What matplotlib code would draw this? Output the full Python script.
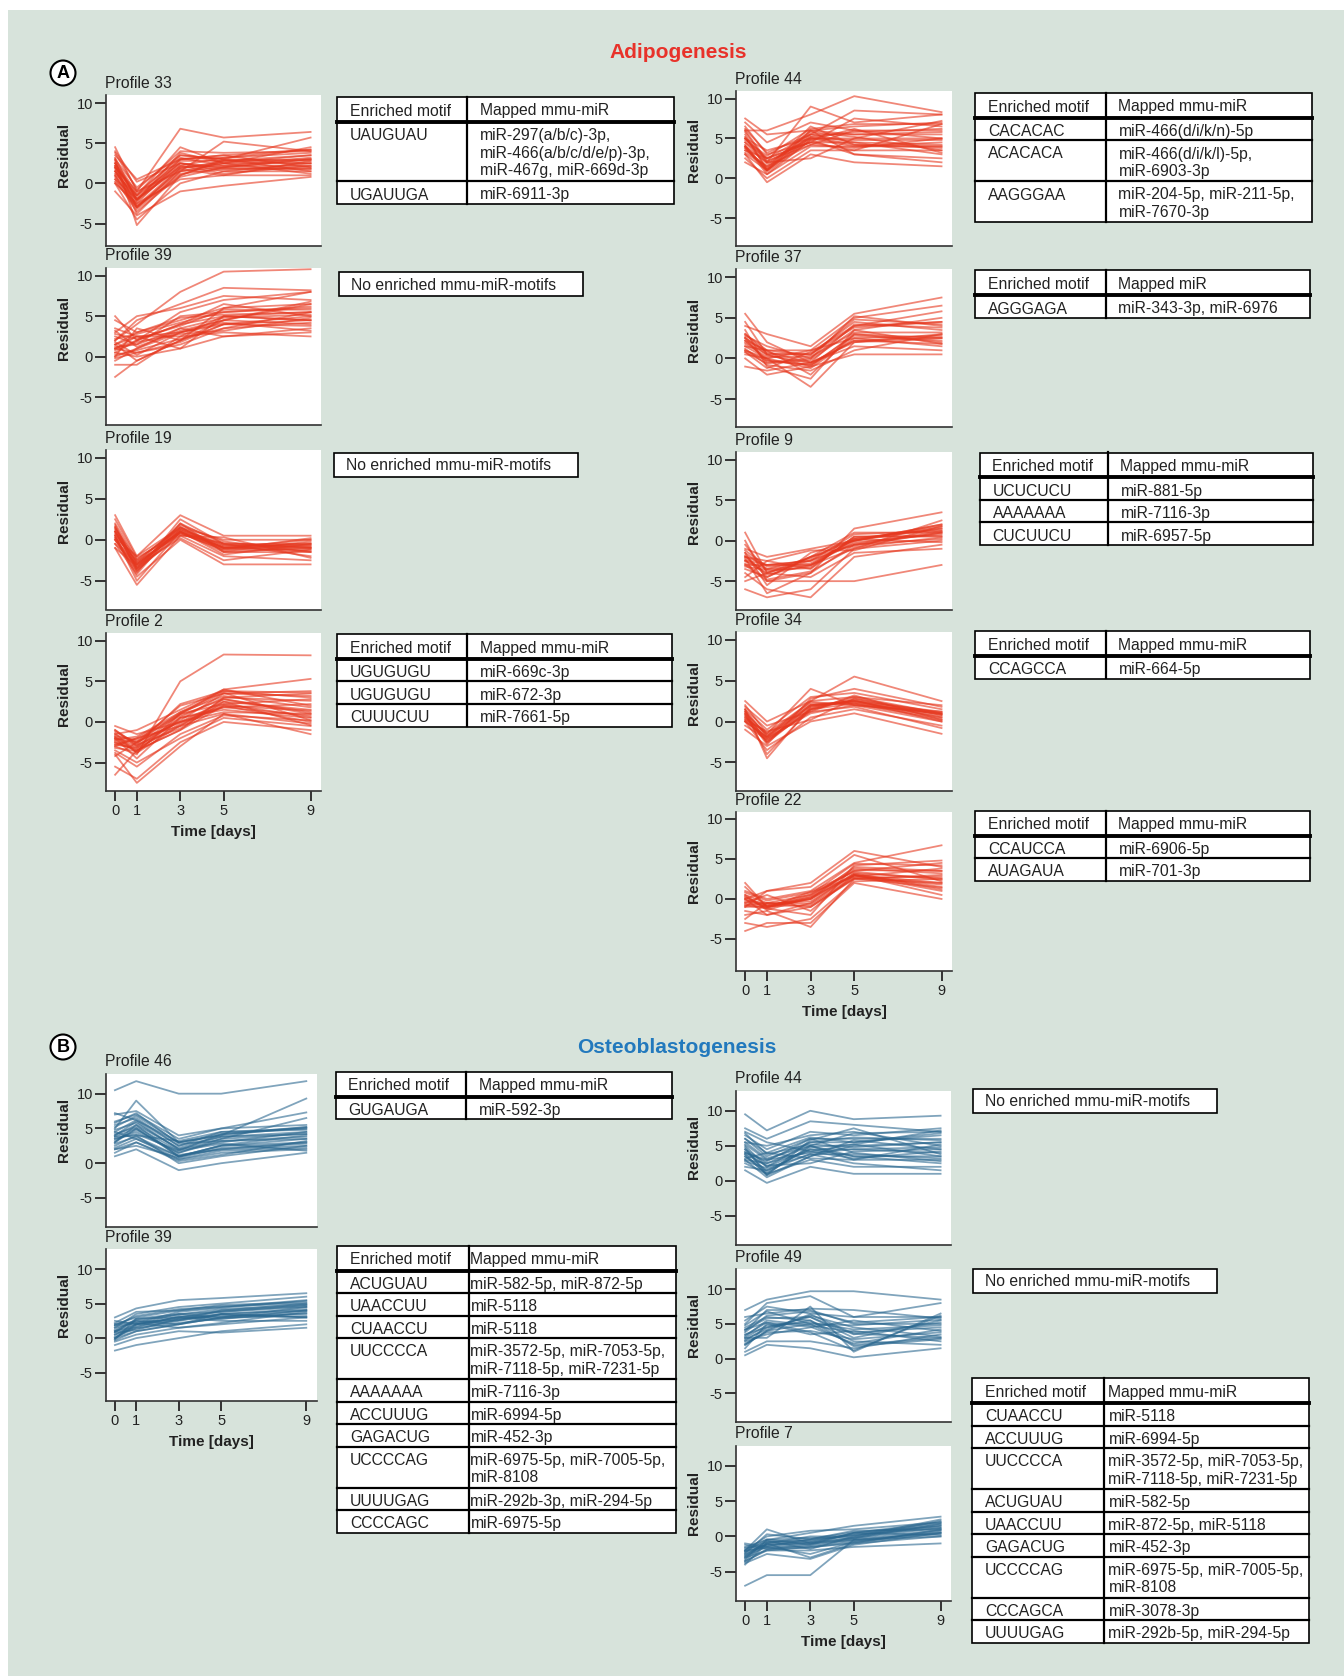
import matplotlib.pyplot as plt
from matplotlib.patches import Rectangle, Circle

plt.rcParams['font.family'] = ['Liberation Sans', 'DejaVu Sans']
plt.rcParams['axes.unicode_minus'] = False

W, H, DPI = 1344, 1676, 100

days = [0, 1, 3, 5, 9]
ytick_vals = [-5, 0, 5, 10]

# ---- Adipogenesis: residual traces (rows = genes, cols = days) ----
adipo_p33 = [
    [2.5, -2.0, 2.0, 2.5, 2.5], [4.5, -1.0, 6.8, 5.7, 6.4], [3.0, -5.2, 1.0, 3.0, 5.7],
    [1.0, -3.0, 1.5, 2.0, 2.0], [0.0, -2.5, 0.5, 1.0, 1.0], [-1.0, -4.0, -1.0, -0.3, 0.8],
    [2.0, -1.5, 4.5, 2.5, 3.5], [3.5, 0.5, 3.0, 3.5, 4.2], [1.5, -2.0, 2.5, 1.5, 2.5],
    [0.5, -3.5, 1.0, 2.8, 3.0], [2.0, -1.0, 1.5, 5.2, 4.0], [3.0, -0.5, 3.5, 3.0, 1.5],
    [1.0, -2.8, 2.0, 2.2, 3.2], [2.5, -1.8, 3.0, 3.5, 2.0], [0.0, -4.5, 0.0, 1.5, 1.5],
    [4.0, 0.2, 2.5, 2.0, 3.0], [1.5, -2.2, 3.8, 2.5, 4.5], [2.2, -3.0, 1.8, 1.0, 2.8],
    [1.8, -2.5, 2.8, 2.8, 3.5], [2.8, -1.2, 3.2, 2.2, 2.2], [0.8, -3.2, 1.2, 1.8, 1.8],
    [3.2, -2.2, 2.2, 3.2, 3.8], [1.2, -1.5, 3.5, 3.0, 2.8], [2.0, -3.8, 1.5, 2.5, 1.2],
    [0.5, -2.0, 2.2, 1.2, 2.2], [3.8, -0.8, 4.0, 3.8, 4.0], [1.5, -2.8, 0.8, 2.0, 3.0],
    [2.5, -1.5, 2.5, 1.8, 1.8], [0.2, -3.0, 1.8, 2.8, 2.5], [2.2, -2.0, 3.0, 3.2, 4.2],
]
adipo_p39 = [
    [0.0, 1.0, 3.0, 4.0, 5.0], [2.0, 4.0, 8.0, 10.5, 10.8], [-2.5, -0.5, 2.0, 6.0, 8.0],
    [1.0, 2.0, 4.0, 5.0, 5.5], [3.0, 5.0, 6.0, 7.5, 7.0], [0.5, 0.0, 1.0, 2.5, 3.0],
    [4.5, 3.0, 4.5, 6.0, 6.5], [1.5, 2.5, 3.0, 4.5, 4.0], [-1.0, -1.0, 2.5, 3.0, 2.5],
    [2.5, 1.5, 5.0, 5.5, 6.0], [0.0, 3.5, 2.0, 4.0, 4.5], [5.0, 2.0, 5.5, 7.0, 8.0],
    [1.0, 0.5, 1.5, 3.5, 5.5], [2.0, 4.5, 6.5, 8.5, 8.2], [-0.5, 1.0, 3.5, 2.5, 3.5],
    [3.5, 2.5, 1.0, 5.0, 4.5], [1.5, -0.5, 2.0, 4.5, 6.5], [0.5, 2.0, 4.0, 6.5, 5.0],
    [1.2, 1.5, 3.5, 4.8, 5.2], [2.2, 2.8, 4.2, 5.5, 6.2], [0.2, 0.8, 2.2, 3.5, 4.2],
    [1.8, 0.2, 3.0, 4.2, 3.2], [2.8, 2.2, 3.8, 5.8, 5.8], [0.8, 1.8, 2.8, 3.2, 4.8],
    [1.5, 3.0, 4.8, 5.2, 5.5], [-0.2, 0.5, 1.8, 4.0, 3.8], [3.2, 1.2, 3.2, 4.5, 6.8],
    [1.0, 2.5, 2.5, 5.0, 4.5],
]
adipo_p19 = [
    [0.0, -3.0, 1.0, -1.0, -1.0], [3.0, -2.0, 3.0, 0.5, 0.5], [-1.0, -5.5, 0.5, -2.0, -2.5],
    [1.0, -3.5, 2.0, -0.5, -0.5], [0.5, -4.5, 0.0, -3.0, -3.0], [2.0, -2.5, 1.5, 0.0, 0.0],
    [-0.5, -3.0, 1.0, -1.5, -1.5], [1.5, -3.8, 1.2, -1.0, -0.8], [0.0, -4.0, 2.5, -0.5, -2.0],
    [2.5, -2.2, 0.8, -1.2, 0.2], [-1.0, -3.2, 0.2, -2.5, -1.2], [1.0, -2.8, 1.8, -0.2, -1.5],
    [0.5, -5.0, 1.0, -1.8, -0.5], [1.8, -3.5, 0.5, 0.3, -2.2], [0.2, -2.0, 1.5, -1.0, 0.0],
    [-0.5, -4.2, 2.0, -1.5, -1.0],
    [0.8, -3.2, 1.2, -0.8, -0.6], [1.2, -2.8, 0.8, -1.2, -1.2], [0.3, -3.6, 1.4, -0.6, -0.9],
    [1.6, -3.0, 1.0, -1.0, -0.4], [0.6, -2.6, 0.6, -0.4, -1.0], [1.0, -3.4, 1.6, -1.4, -0.2],
    [0.0, -3.8, 0.9, -0.9, -1.4], [1.4, -2.4, 1.3, -0.7, -0.7],
]
adipo_p2 = [
    [-3.0, -4.0, 5.0, 8.3, 8.2], [-1.0, -3.0, 1.0, 4.0, 5.3], [-2.0, -2.5, 2.0, 3.5, 3.8],
    [-6.5, -3.5, -1.0, 2.0, 0.0], [-4.0, -7.5, -3.0, 1.0, -1.5], [-0.5, -1.5, 0.0, 2.5, 1.5],
    [-2.5, -3.5, -1.0, 3.0, 3.5], [-3.5, -5.0, -2.0, 0.5, -0.5], [-1.5, -1.0, 1.5, 4.0, 2.0],
    [-2.0, -4.5, 0.5, 1.5, 0.5], [-3.0, -2.0, -0.5, 2.8, 1.0], [-5.5, -7.0, -2.5, 0.0, -1.0],
    [-1.0, -2.8, 2.2, 3.8, 3.0], [-2.8, -3.2, -0.5, 1.0, -0.2], [-1.8, -3.8, 1.0, 2.2, 2.8],
    [-4.2, -2.5, 0.0, 1.8, 0.8], [-2.2, -1.8, 1.2, 3.2, 1.8], [-3.8, -5.5, -1.5, 0.8, 0.2],
    [-2.2, -3.0, 0.2, 3.5, 3.2], [-1.8, -2.2, 0.8, 2.8, 1.2], [-2.6, -3.4, -0.2, 2.2, 0.6],
    [-1.2, -2.6, 1.2, 3.8, 3.6], [-3.2, -3.6, 0.5, 1.8, 2.2], [-2.0, -2.8, -0.8, 2.5, -0.4],
    [-2.4, -3.2, 0.6, 3.0, 2.6], [-1.6, -2.4, 0.0, 1.2, 1.0], [-2.8, -2.0, 1.0, 3.6, 0.2],
    [-1.4, -3.8, -0.4, 2.0, 1.4],
]
adipo_p44 = [
    [4.0, 1.0, 5.0, 5.0, 5.0], [7.5, 5.5, 6.0, 6.5, 7.0], [6.0, 6.0, 8.0, 10.3, 8.3],
    [3.0, -0.5, 3.0, 2.0, 1.5], [5.0, 2.0, 9.0, 7.0, 8.0], [2.0, 0.5, 4.0, 4.0, 4.0],
    [4.5, 2.5, 5.5, 4.5, 3.0], [3.5, 1.5, 6.0, 3.0, 2.5], [6.5, 3.0, 4.5, 7.5, 6.5],
    [5.5, 1.0, 6.0, 5.5, 5.5], [2.5, 0.0, 3.5, 3.5, 3.5], [7.0, 4.5, 7.0, 6.0, 5.0],
    [4.0, 2.0, 2.5, 5.0, 7.2], [3.0, 1.0, 5.5, 8.5, 8.0], [5.0, 3.5, 5.0, 4.0, 4.5],
    [6.0, 2.2, 4.2, 6.0, 6.0], [4.2, 0.8, 4.8, 3.0, 2.0], [3.8, 1.2, 6.5, 4.2, 3.8],
    [4.5, 1.8, 5.2, 5.8, 6.2], [3.5, 2.5, 4.5, 4.5, 4.2], [5.2, 1.2, 5.8, 5.2, 3.5],
    [4.8, 2.8, 6.2, 6.8, 6.8], [3.2, 1.5, 4.2, 3.8, 5.0], [5.8, 2.0, 5.0, 4.8, 4.8],
    [4.0, 0.5, 4.8, 6.2, 3.2], [6.2, 3.2, 5.5, 5.5, 5.8], [3.8, 1.0, 5.2, 4.2, 4.0],
    [5.0, 2.5, 4.5, 3.5, 6.8],
]
adipo_p37 = [
    [5.5, 2.0, -0.5, 2.0, 3.0], [4.0, 3.0, 1.5, 5.5, 7.5], [1.0, 0.0, -3.5, 2.0, 2.5],
    [3.0, 1.0, 1.0, 5.0, 6.5], [0.0, -2.0, -1.0, 0.5, 0.5], [2.5, -0.5, 0.0, 4.0, 4.5],
    [1.5, 1.0, -2.0, 3.0, 2.0], [-1.0, -1.5, -0.5, 1.5, 1.0], [2.0, 0.5, 0.5, 4.5, 3.5],
    [3.5, -1.0, -2.5, 3.5, 5.0], [0.5, 0.0, 1.0, 2.5, 1.5], [2.8, 1.5, 0.0, 5.2, 4.0],
    [1.2, -0.8, -1.5, 1.0, 3.0], [4.5, 0.5, -1.0, 3.0, 2.5], [0.8, -1.2, 0.8, 4.0, 5.8],
    [2.2, -0.2, -0.8, 2.2, 1.8],
    [1.8, 0.2, 0.2, 3.2, 3.2], [2.5, 0.8, -0.5, 4.2, 3.8], [1.0, -0.3, -0.8, 2.8, 2.2],
    [3.0, 0.6, 0.6, 3.8, 4.5], [1.5, 0.0, -1.2, 2.5, 2.8], [2.2, 1.0, 0.4, 4.8, 4.2],
    [0.8, -0.6, -0.2, 3.5, 1.8], [2.6, 0.4, -0.6, 2.2, 2.6],
]
adipo_p9 = [
    [1.0, -4.0, -2.0, 0.0, 2.0], [-2.0, -3.0, -2.5, -0.5, 1.0], [-3.0, -5.0, -4.0, 1.5, 3.5],
    [-6.0, -7.0, -6.0, -1.0, 0.0], [-1.0, -2.0, -1.0, 0.0, 1.5], [-4.0, -6.0, -7.0, -2.0, -0.5],
    [-2.5, -3.5, -3.0, -1.0, 2.5], [0.0, -5.0, -5.0, -5.0, -3.0], [-3.5, -4.5, -2.0, 1.0, 1.0],
    [-2.0, -2.5, -3.5, 0.5, 0.5], [-5.0, -4.0, -4.5, -1.5, -1.0], [-1.5, -5.5, -1.5, 0.0, 2.0],
    [-3.0, -3.0, -2.5, 0.8, 1.2], [-2.2, -6.5, -4.0, -0.5, 0.2], [-4.5, -2.5, -1.2, -1.2, 1.8],
    [-0.5, -3.8, -3.2, 0.2, -0.2],
    [-2.0, -4.2, -3.0, -0.2, 0.8], [-1.5, -3.5, -2.2, 0.3, 1.4], [-2.8, -4.8, -3.8, -0.8, 0.4],
    [-1.2, -3.2, -2.8, 0.0, 1.8], [-2.5, -4.0, -2.4, -0.4, 1.2], [-3.2, -3.6, -3.4, 0.5, 0.6],
    [-1.8, -4.5, -2.0, -0.6, 1.0], [-2.4, -3.0, -3.0, 0.2, 1.6],
]
adipo_p34 = [
    [1.0, -4.0, 1.5, 3.0, 1.0], [2.5, 0.0, 2.5, 5.5, 2.5], [0.0, -2.0, 1.0, 2.0, 0.0],
    [-1.0, -3.0, 0.0, 1.0, -1.5], [1.5, -1.0, 3.0, 3.5, 1.5], [0.5, -2.5, 2.0, 2.5, 0.5],
    [2.0, -1.5, 4.0, 2.0, 1.0], [0.0, -3.5, 0.5, 1.5, -0.5], [1.2, -1.8, 2.5, 3.0, 2.0],
    [-0.5, -2.2, 1.5, 2.2, 0.2], [1.8, -0.5, 1.2, 1.8, -0.8], [0.8, -2.8, 2.8, 4.0, 1.8],
    [0.2, -1.2, 0.2, 2.8, 0.8], [1.5, -4.5, 1.8, 2.5, 1.2],
    [0.6, -2.0, 1.8, 2.6, 0.8], [1.0, -1.6, 2.2, 2.2, 0.4], [0.2, -2.4, 1.4, 2.8, 1.0],
    [1.4, -1.8, 2.0, 2.4, 0.6], [0.8, -2.2, 1.2, 3.2, 0.2], [0.4, -1.4, 2.4, 2.0, 1.2],
    [1.2, -2.6, 1.6, 2.6, 0.0], [0.0, -1.9, 2.0, 2.3, 0.9],
]
adipo_p22 = [
    [2.0, -1.0, 0.0, 3.0, 1.0], [-1.0, 1.0, 2.0, 6.0, 4.0], [0.0, -2.0, -1.0, 2.5, 2.0],
    [-4.0, -3.0, -3.0, 2.0, 0.0], [1.0, 0.0, 1.0, 4.5, 6.7], [-2.0, -1.5, -3.5, 2.5, 3.0],
    [0.5, -0.5, 0.5, 3.5, 4.5], [-0.5, 0.5, -1.5, 3.0, 1.5], [1.5, -1.0, 0.0, 4.0, 3.5],
    [-3.0, -3.5, -2.5, 2.2, 2.5], [0.0, 1.0, 1.5, 5.5, 2.2], [-1.5, -2.0, -0.5, 3.2, 1.2],
    [0.8, -0.2, 0.8, 2.8, 3.8], [-0.8, -1.2, -2.0, 4.2, 4.8], [0.2, -0.8, 0.2, 3.0, 0.5],
    [-2.5, -0.5, -1.0, 2.6, 2.8],
    [-0.4, -0.8, 0.0, 3.2, 2.6], [0.3, -1.2, 0.4, 3.8, 3.2], [-0.8, -0.5, -0.6, 2.8, 1.8],
    [0.0, -1.0, 0.6, 4.4, 4.2], [-0.2, -0.6, -0.3, 3.0, 2.0], [0.5, -1.4, 0.2, 3.6, 3.5],
    [-1.0, -0.9, -0.8, 2.6, 1.4], [-0.6, -1.1, 0.9, 3.4, 2.4],
]

# ---- Osteoblastogenesis ----
osteo_p46 = [
    [10.5, 11.8, 10.0, 10.0, 11.8], [5.0, 9.0, 3.0, 4.0, 9.3], [7.0, 7.5, 4.0, 5.0, 7.3],
    [3.0, 5.0, 1.0, 2.0, 3.0], [1.0, 2.0, -1.0, 0.0, 1.5], [4.0, 6.0, 2.0, 3.0, 4.5],
    [2.0, 3.0, 0.5, 1.5, 2.0], [6.0, 7.0, 3.5, 5.0, 5.5], [3.5, 4.5, 1.5, 3.5, 6.5],
    [2.5, 4.0, 0.0, 1.0, 2.5], [5.5, 6.5, 2.5, 4.5, 5.0], [4.5, 3.5, 1.0, 2.5, 3.5],
    [3.0, 5.5, 2.2, 3.8, 4.2], [2.0, 2.5, 0.8, 2.2, 2.8], [7.2, 6.2, 3.0, 4.2, 5.2],
    [4.2, 5.2, 1.8, 2.8, 1.8], [3.8, 4.0, 3.2, 4.5, 4.8], [1.5, 3.0, 0.3, 1.2, 3.2],
    [3.2, 4.8, 1.5, 3.2, 3.8], [4.5, 6.2, 2.5, 3.8, 4.5], [2.8, 3.8, 1.0, 2.5, 3.0],
    [5.2, 6.8, 3.0, 4.0, 5.2], [3.8, 5.0, 1.2, 2.0, 2.5], [4.8, 5.8, 2.0, 3.5, 4.2],
    [2.2, 3.5, 0.6, 1.8, 2.2], [3.5, 4.2, 1.8, 4.2, 5.0], [5.8, 7.2, 2.8, 3.2, 3.5],
    [4.0, 5.5, 0.9, 2.6, 4.0],
]
osteo_p39 = [
    [0.0, 1.0, 2.0, 3.0, 4.0], [3.0, 4.3, 5.5, 5.8, 6.5], [-1.8, -1.0, 0.0, 1.0, 2.0],
    [1.0, 2.0, 3.0, 4.0, 5.0], [2.0, 3.0, 4.0, 4.5, 5.5], [-0.5, 0.5, 1.5, 2.0, 3.0],
    [1.5, 3.5, 4.5, 5.0, 6.0], [0.5, 1.5, 2.5, 3.5, 3.0], [2.5, 2.0, 3.5, 3.0, 4.5],
    [-1.0, 0.0, 1.0, 0.8, 1.5], [1.0, 2.5, 2.0, 3.5, 4.0], [0.0, 2.0, 3.0, 2.5, 2.5],
    [2.2, 3.8, 4.0, 4.8, 5.2], [0.8, 1.2, 2.8, 3.2, 3.5], [-0.2, 2.8, 3.5, 3.8, 4.8],
    [1.8, 2.2, 1.5, 2.2, 3.8],
    [0.5, 2.0, 2.8, 3.5, 4.2], [1.2, 2.6, 3.4, 4.2, 4.8], [0.2, 1.4, 2.2, 2.8, 3.6],
    [1.5, 2.2, 3.8, 4.4, 5.4], [-0.3, 1.0, 2.0, 3.0, 3.2], [0.8, 2.8, 3.0, 3.8, 4.5],
    [1.8, 3.2, 4.2, 4.6, 5.0], [0.0, 1.8, 2.6, 3.4, 3.0], [1.0, 1.6, 3.2, 2.8, 4.0],
    [2.0, 2.4, 2.6, 4.0, 4.6],
]
osteo_p44 = [
    [9.5, 7.2, 10.0, 8.8, 9.3], [7.5, 6.0, 8.5, 8.0, 7.0], [3.5, 1.0, 5.0, 3.0, 3.0],
    [5.0, 2.0, 5.5, 5.5, 6.5], [1.5, -0.3, 2.0, 1.0, 1.0], [2.5, 1.0, 3.0, 2.0, 2.0],
    [6.5, 4.5, 7.0, 6.5, 7.5], [4.0, 3.0, 4.0, 4.5, 4.0], [3.0, 0.5, 3.5, 5.0, 5.5],
    [5.5, 5.0, 6.5, 7.0, 5.0], [2.0, 1.5, 4.5, 3.5, 3.5], [4.5, 2.5, 5.0, 3.5, 2.5],
    [6.0, 3.5, 6.0, 6.0, 6.0], [3.8, 2.2, 2.5, 4.2, 4.5], [7.0, 5.5, 4.2, 5.2, 7.2],
    [2.8, 1.8, 3.8, 2.5, 1.5], [4.8, 0.8, 5.8, 7.5, 3.8], [3.2, 4.0, 3.2, 3.0, 5.2],
    [4.2, 2.0, 4.5, 4.5, 4.8], [5.2, 3.0, 5.5, 6.2, 5.8], [3.5, 1.5, 3.8, 3.8, 3.2],
    [6.0, 4.0, 6.2, 5.5, 6.8], [4.5, 1.2, 4.8, 5.2, 3.5], [3.0, 2.5, 4.2, 3.2, 4.2],
    [5.5, 3.2, 5.0, 6.8, 7.0], [4.0, 2.8, 6.0, 4.0, 2.8], [6.8, 3.8, 5.2, 4.8, 5.5],
    [3.8, 0.8, 3.5, 5.8, 4.5],
]
osteo_p49 = [
    [7.0, 8.5, 9.7, 9.7, 8.5], [5.0, 8.0, 9.0, 6.0, 8.0], [2.0, 4.0, 5.0, 2.0, 3.0],
    [3.0, 3.0, 7.5, 1.0, 6.5], [0.5, 2.0, 1.5, 0.2, 1.5], [4.0, 7.0, 7.0, 5.0, 5.0],
    [1.5, 5.0, 3.5, 4.0, 2.5], [3.5, 4.5, 6.0, 3.0, 5.5], [5.5, 7.5, 6.5, 6.0, 6.0],
    [2.5, 3.5, 4.5, 5.5, 4.0], [4.5, 6.0, 5.5, 2.5, 2.0], [1.0, 2.5, 2.5, 1.5, 3.5],
    [6.0, 6.5, 7.2, 7.0, 5.8], [3.2, 5.5, 4.8, 3.8, 4.5], [2.8, 4.2, 6.2, 4.5, 3.2],
    [4.2, 5.2, 3.8, 1.2, 6.2],
    [3.0, 4.8, 5.2, 4.2, 4.8], [4.2, 5.8, 6.0, 3.5, 5.2], [2.2, 3.8, 4.0, 2.8, 3.8],
    [3.8, 6.2, 6.8, 5.2, 6.0], [2.6, 4.5, 5.5, 1.8, 2.8], [4.8, 6.8, 5.0, 4.8, 5.6],
    [3.4, 5.2, 4.6, 2.2, 4.2], [2.0, 4.0, 6.4, 3.6, 3.0],
]
osteo_p7 = [
    [-7.0, -5.5, -5.5, -0.5, 0.0], [-4.0, -1.0, -3.0, -1.0, 1.0], [-2.0, 1.0, -1.0, 0.5, 2.0],
    [-1.5, -0.5, 0.5, 1.5, 2.8], [-3.0, -2.0, -2.0, -1.5, -1.0], [-2.5, -1.0, 0.0, 0.0, 1.5],
    [-1.0, -1.5, -1.0, -0.5, 0.5], [-3.5, -2.0, -1.5, -1.0, 0.0], [-2.0, 0.0, 0.8, 1.0, 2.0],
    [-1.8, -0.8, -0.5, 0.2, 1.2], [-2.8, -1.5, -2.5, -0.8, 0.8], [-3.2, -0.5, -0.2, -0.2, 2.2],
    [-1.2, -1.8, -1.2, 0.5, 0.2], [-2.2, -1.2, -0.8, -0.3, 1.8], [-3.8, -2.5, -3.2, -1.2, 0.5],
    [-2.4, 0.3, -0.4, 0.8, 1.0],
    [-2.6, -1.2, -1.0, -0.2, 1.2], [-3.0, -0.8, -0.6, 0.2, 1.6], [-2.0, -1.6, -1.4, -0.6, 0.6],
    [-3.4, -1.0, -0.8, 0.4, 1.8], [-2.2, -0.4, -1.2, -0.4, 0.9], [-1.6, -1.4, -0.4, 0.6, 1.4],
    [-3.6, -1.8, -1.6, -0.8, 0.4], [-2.8, -0.6, -1.8, 0.0, 2.4],
]

# ---- motif tables ----
a33_motifs = ['UAUGUAU', 'UGAUUGA']
a33_mirs = ['miR-297(a/b/c)-3p,\nmiR-466(a/b/c/d/e/p)-3p,\nmiR-467g, miR-669d-3p', 'miR-6911-3p']
a2_motifs = ['UGUGUGU', 'UGUGUGU', 'CUUUCUU']
a2_mirs = ['miR-669c-3p', 'miR-672-3p', 'miR-7661-5p']
a44_motifs = ['CACACAC', 'ACACACA', 'AAGGGAA']
a44_mirs = ['miR-466(d/i/k/n)-5p', 'miR-466(d/i/k/l)-5p,\nmiR-6903-3p', 'miR-204-5p, miR-211-5p,\nmiR-7670-3p']
a37_motifs = ['AGGGAGA']
a37_mirs = ['miR-343-3p, miR-6976']
a9_motifs = ['UCUCUCU', 'AAAAAAA', 'CUCUUCU']
a9_mirs = ['miR-881-5p', 'miR-7116-3p', 'miR-6957-5p']
a34_motifs = ['CCAGCCA']
a34_mirs = ['miR-664-5p']
a22_motifs = ['CCAUCCA', 'AUAGAUA']
a22_mirs = ['miR-6906-5p', 'miR-701-3p']
b46_motifs = ['GUGAUGA']
b46_mirs = ['miR-592-3p']
b39_motifs = ['ACUGUAU', 'UAACCUU', 'CUAACCU', 'UUCCCCA', 'AAAAAAA', 'ACCUUUG', 'GAGACUG',
              'UCCCCAG', 'UUUUGAG', 'CCCCAGC']
b39_mirs = ['miR-582-5p, miR-872-5p', 'miR-5118', 'miR-5118',
            'miR-3572-5p, miR-7053-5p,\nmiR-7118-5p, miR-7231-5p', 'miR-7116-3p', 'miR-6994-5p',
            'miR-452-3p', 'miR-6975-5p, miR-7005-5p,\nmiR-8108', 'miR-292b-3p, miR-294-5p', 'miR-6975-5p']
b7_motifs = ['CUAACCU', 'ACCUUUG', 'UUCCCCA', 'ACUGUAU', 'UAACCUU', 'GAGACUG', 'UCCCCAG',
             'CCCAGCA', 'UUUUGAG']
b7_mirs = ['miR-5118', 'miR-6994-5p', 'miR-3572-5p, miR-7053-5p,\nmiR-7118-5p, miR-7231-5p',
           'miR-582-5p', 'miR-872-5p, miR-5118', 'miR-452-3p', 'miR-6975-5p, miR-7005-5p,\nmiR-8108',
           'miR-3078-3p', 'miR-292b-5p, miR-294-5p']
no_motif = 'No enriched mmu-miR-motifs'

RED = '#e6381f'
BLUE = '#2b6890'
AXC = '#333333'
TXT = '#222222'
FS = 11.3

fig = plt.figure(figsize=(W / DPI, H / DPI), dpi=DPI)
fig.patch.set_facecolor('white')
bg = fig.add_axes([0, 0, 1, 1])
bg.set_xlim(0, W)
bg.set_ylim(H, 0)
bg.axis('off')
bg.add_patch(Rectangle((8, 10), W - 8, H - 10, facecolor='#d7e3db', edgecolor='none'))


def add_profile(box, name, series, color, ylim, label_y, xaxis=False):
    x0, y0, x1, y1 = box
    ax = fig.add_axes([x0 / W, 1 - y1 / H, (x1 - x0) / W, (y1 - y0) / H])
    for row in series:
        ax.plot(days, row, color=color, lw=1.3, alpha=0.6)
    ax.set_xlim(-0.42, 9.48)
    ax.set_ylim(*ylim)
    ax.set_yticks(ytick_vals)
    ax.set_yticklabels([str(v) for v in ytick_vals])
    for s in ('top', 'right'):
        ax.spines[s].set_visible(False)
    for s in ('left', 'bottom'):
        ax.spines[s].set_color(AXC)
        ax.spines[s].set_linewidth(1.2)
    ax.tick_params(axis='y', length=8, width=1.4, color=AXC, pad=1.5, labelsize=10.5, labelcolor=TXT)
    if xaxis:
        ax.set_xticks(days)
        ax.tick_params(axis='x', length=7.5, width=1.4, color=AXC, pad=2, labelsize=10.5, labelcolor=TXT)
        bg.text((x0 + x1) / 2, y1 + 41, 'Time [days]', ha='center', va='center',
                fontsize=11, fontweight='bold', color=TXT)
    else:
        ax.set_xticks([])
    bg.text(x0 - 1, y0 - 12, name, ha='left', va='center', fontsize=FS, color=TXT)
    ly = y1 - (label_y - ylim[0]) / (ylim[1] - ylim[0]) * (y1 - y0)
    bg.text(x0 - 42, ly, 'Residual', rotation=90, ha='center', va='center',
            fontsize=11, fontweight='bold', color=TXT)
    return ax


def draw_table(x0, x1, xdiv, top, motifs, mirs, header=('Enriched motif', 'Mapped mmu-miR'), pad2=13):
    hh = 25
    heights = [22.5 + 18.5 * m.count('\n') for m in mirs]
    total = hh + sum(heights)
    bg.add_patch(Rectangle((x0, top), x1 - x0, total, facecolor='white', edgecolor='black', lw=1.2))
    bg.plot([xdiv, xdiv], [top, top + total], color='black', lw=1.6)
    bg.text(x0 + 13, top + hh / 2 + 1.5, header[0], ha='left', va='center', fontsize=FS, color=TXT)
    bg.text(xdiv + pad2, top + hh / 2 + 1.5, header[1], ha='left', va='center', fontsize=FS, color=TXT)
    bg.plot([x0, x1], [top + hh, top + hh], color='black', lw=2.8)
    y = top + hh
    for i, (m, r) in enumerate(zip(motifs, mirs)):
        if i > 0:
            bg.plot([x0, x1], [y, y], color='black', lw=1.6)
        bg.text(x0 + 13, y + 6, m, ha='left', va='top', fontsize=FS, color=TXT)
        bg.text(xdiv + pad2, y + 6, r, ha='left', va='top', fontsize=FS, color=TXT,
                linespacing=1.22)
        y += heights[i]


def no_table(x0, x1, y0, y1):
    bg.add_patch(Rectangle((x0, y0), x1 - x0, y1 - y0, facecolor='white', edgecolor='black', lw=1.2))
    bg.text(x0 + 12, (y0 + y1) / 2 + 1, no_motif, ha='left', va='center', fontsize=FS, color=TXT)


def panel_letter(x, y, letter):
    bg.add_patch(Circle((x, y), 12.5, facecolor='white', edgecolor='black', lw=1.5))
    bg.text(x, y + 0.5, letter, ha='center', va='center', fontsize=13, fontweight='bold')


YA = (-8.5, 10.95)
YB = (-9.1, 12.9)

# Panel A
panel_letter(63, 73, 'A')
bg.text(678, 52, 'Adipogenesis', ha='center', va='center', fontsize=15, fontweight='bold', color='#e8322a')
add_profile((106, 95, 321, 246), 'Profile 33', adipo_p33, RED, (-7.8, 11.0), 3.5)
add_profile((106, 268, 321, 425.5), 'Profile 39', adipo_p39, RED, YA, 3.5)
add_profile((106, 450, 321, 609.5), 'Profile 19', adipo_p19, RED, YA, 3.5)
add_profile((106, 633, 321, 791), 'Profile 2', adipo_p2, RED, YA, 3.5, xaxis=True)
add_profile((736, 91, 952, 246), 'Profile 44', adipo_p44, RED, YA, 3.5)
add_profile((736, 269.5, 952, 427.5), 'Profile 37', adipo_p37, RED, YA, 3.5)
add_profile((736, 452, 952, 609.5), 'Profile 9', adipo_p9, RED, YA, 3.5)
add_profile((736, 632, 952, 791), 'Profile 34', adipo_p34, RED, YA, 3.5)
add_profile((736, 812.5, 952, 971), 'Profile 22', adipo_p22, RED, (-9.0, 10.8), 3.5, xaxis=True)

draw_table(337, 673.5, 467, 97, a33_motifs, a33_mirs)
no_table(339, 583, 272.5, 296)
no_table(333.5, 577.5, 452.5, 477)
draw_table(337, 671.5, 467, 634, a2_motifs, a2_mirs)
draw_table(975, 1312, 1105.5, 93, a44_motifs, a44_mirs)
draw_table(975, 1310, 1105.5, 270.5, a37_motifs, a37_mirs, header=('Enriched motif', 'Mapped miR'))
draw_table(979.5, 1313, 1107.5, 452.5, a9_motifs, a9_mirs)
draw_table(975, 1310, 1105.5, 631, a34_motifs, a34_mirs)
draw_table(975, 1310, 1105.5, 810.5, a22_motifs, a22_mirs)

# Panel B
panel_letter(63, 1047, 'B')
bg.text(677, 1047, 'Osteoblastogenesis', ha='center', va='center', fontsize=15, fontweight='bold', color='#2279bd')
add_profile((106, 1073.5, 316.5, 1226.5), 'Profile 46', osteo_p46, BLUE, YB, 4.8)
add_profile((106, 1249, 316.5, 1401), 'Profile 39', osteo_p39, BLUE, YB, 4.8, xaxis=True)
add_profile((736, 1090.5, 951, 1244.5), 'Profile 44', osteo_p44, BLUE, YB, 4.8)
add_profile((736, 1269, 951, 1422), 'Profile 49', osteo_p49, BLUE, YB, 4.8)
add_profile((736, 1445.5, 951, 1600.5), 'Profile 7', osteo_p7, BLUE, YB, 4.8, xaxis=True)

draw_table(335.5, 671.5, 466, 1071.5, b46_motifs, b46_mirs)
draw_table(337, 675.5, 468.5, 1245.5, b39_motifs, b39_mirs, pad2=2)
no_table(973, 1217, 1088.5, 1113)
no_table(973, 1217, 1269, 1292.5)
draw_table(972, 1308.5, 1103.5, 1378, b7_motifs, b7_mirs, pad2=5)

fig.savefig('out.png', dpi=DPI)
